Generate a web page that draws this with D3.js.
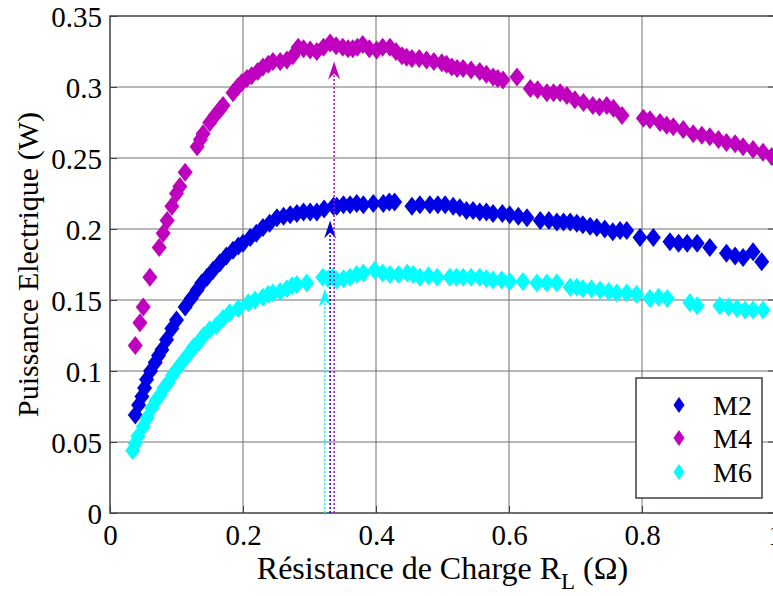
<!DOCTYPE html>
<html>
<head>
<meta charset="utf-8">
<script src="https://cdn.jsdelivr.net/npm/d3@7"></script>
<style>
  html, body { margin: 0; padding: 0; background: #fff; }
  svg { display: block; }
</style>
</head>
<body>
<svg id="chart" width="773" height="596"></svg>
<script>
const FONT = '"Liberation Serif", Tinos, "Times New Roman", Times, "DejaVu Serif", serif';
// ---- Data ----
const seriesNames = ["M2", "M4", "M6"];
const seriesColors = ["#0000e6", "#bf00bf", "#00ffff"];

const xTicks = [0, 0.2, 0.4, 0.6, 0.8, 1];
const yTicks = [0, 0.05, 0.1, 0.15, 0.2, 0.25, 0.3, 0.35];
const xTickLabels = ["0", "0.2", "0.4", "0.6", "0.8", "1"];
const yTickLabels = ["0", "0.05", "0.1", "0.15", "0.2", "0.25", "0.3", "0.35"];

const m2X = [0.038, 0.043, 0.048, 0.052, 0.055, 0.061, 0.068, 0.073, 0.078, 0.085, 0.093, 0.100, 0.113, 0.122, 0.131, 0.138, 0.146, 0.155, 0.165, 0.175, 0.185, 0.193, 0.200, 0.211, 0.220, 0.230, 0.240, 0.251, 0.261, 0.271, 0.281, 0.291, 0.301, 0.311, 0.322, 0.336, 0.341, 0.351, 0.361, 0.371, 0.381, 0.396, 0.411, 0.420, 0.428, 0.454, 0.466, 0.481, 0.493, 0.504, 0.516, 0.526, 0.536, 0.546, 0.556, 0.566, 0.576, 0.590, 0.601, 0.614, 0.627, 0.647, 0.660, 0.672, 0.682, 0.692, 0.702, 0.711, 0.722, 0.732, 0.744, 0.756, 0.767, 0.777, 0.797, 0.817, 0.842, 0.855, 0.868, 0.883, 0.902, 0.927, 0.940, 0.952, 0.967, 0.980];
const m2Y = [0.069, 0.076, 0.082, 0.088, 0.094, 0.100, 0.106, 0.111, 0.115, 0.122, 0.130, 0.136, 0.145, 0.151, 0.157, 0.162, 0.166, 0.171, 0.176, 0.181, 0.185, 0.188, 0.190, 0.194, 0.197, 0.201, 0.204, 0.208, 0.209, 0.210, 0.211, 0.212, 0.212, 0.212, 0.214, 0.216, 0.216, 0.217, 0.217, 0.218, 0.217, 0.218, 0.218, 0.219, 0.219, 0.216, 0.217, 0.217, 0.217, 0.217, 0.216, 0.215, 0.213, 0.213, 0.212, 0.212, 0.211, 0.211, 0.210, 0.209, 0.208, 0.206, 0.206, 0.205, 0.205, 0.205, 0.204, 0.203, 0.202, 0.201, 0.200, 0.198, 0.199, 0.199, 0.194, 0.194, 0.191, 0.190, 0.190, 0.190, 0.187, 0.183, 0.181, 0.180, 0.184, 0.177];

const m4X = [0.038, 0.045, 0.050, 0.060, 0.074, 0.080, 0.086, 0.093, 0.100, 0.105, 0.113, 0.131, 0.136, 0.140, 0.150, 0.158, 0.165, 0.170, 0.185, 0.192, 0.198, 0.206, 0.213, 0.222, 0.230, 0.238, 0.245, 0.256, 0.266, 0.275, 0.283, 0.291, 0.301, 0.311, 0.321, 0.331, 0.340, 0.350, 0.358, 0.365, 0.372, 0.380, 0.390, 0.401, 0.410, 0.421, 0.430, 0.439, 0.446, 0.454, 0.465, 0.476, 0.487, 0.499, 0.506, 0.514, 0.522, 0.531, 0.543, 0.556, 0.566, 0.576, 0.583, 0.591, 0.612, 0.632, 0.643, 0.657, 0.667, 0.677, 0.687, 0.699, 0.712, 0.726, 0.736, 0.747, 0.757, 0.770, 0.802, 0.812, 0.827, 0.837, 0.847, 0.862, 0.877, 0.890, 0.902, 0.915, 0.927, 0.940, 0.952, 0.967, 0.982, 0.995];
const m4Y = [0.118, 0.134, 0.145, 0.166, 0.187, 0.197, 0.206, 0.216, 0.225, 0.230, 0.240, 0.258, 0.263, 0.267, 0.275, 0.280, 0.284, 0.287, 0.296, 0.300, 0.303, 0.306, 0.308, 0.311, 0.314, 0.316, 0.318, 0.318, 0.319, 0.322, 0.328, 0.327, 0.326, 0.325, 0.328, 0.331, 0.329, 0.328, 0.327, 0.327, 0.328, 0.330, 0.327, 0.326, 0.328, 0.328, 0.325, 0.322, 0.321, 0.320, 0.320, 0.319, 0.318, 0.317, 0.316, 0.314, 0.313, 0.313, 0.312, 0.311, 0.309, 0.307, 0.306, 0.305, 0.307, 0.299, 0.298, 0.296, 0.296, 0.296, 0.294, 0.291, 0.289, 0.287, 0.286, 0.287, 0.285, 0.280, 0.278, 0.277, 0.275, 0.273, 0.272, 0.270, 0.267, 0.266, 0.265, 0.263, 0.261, 0.260, 0.258, 0.256, 0.254, 0.251];

const m6X = [0.034, 0.038, 0.042, 0.050, 0.056, 0.063, 0.069, 0.075, 0.081, 0.088, 0.094, 0.100, 0.110, 0.120, 0.126, 0.133, 0.141, 0.150, 0.160, 0.170, 0.180, 0.193, 0.208, 0.218, 0.230, 0.238, 0.245, 0.256, 0.266, 0.274, 0.281, 0.296, 0.320, 0.328, 0.335, 0.341, 0.351, 0.361, 0.371, 0.381, 0.398, 0.410, 0.421, 0.434, 0.447, 0.456, 0.466, 0.479, 0.492, 0.511, 0.521, 0.531, 0.543, 0.556, 0.566, 0.576, 0.589, 0.601, 0.621, 0.642, 0.657, 0.672, 0.692, 0.702, 0.711, 0.724, 0.737, 0.750, 0.762, 0.777, 0.792, 0.812, 0.825, 0.838, 0.872, 0.883, 0.917, 0.930, 0.943, 0.955, 0.967, 0.982];
const m6Y = [0.044, 0.049, 0.054, 0.061, 0.067, 0.074, 0.079, 0.083, 0.088, 0.092, 0.097, 0.101, 0.107, 0.113, 0.117, 0.120, 0.125, 0.129, 0.132, 0.137, 0.141, 0.144, 0.148, 0.150, 0.152, 0.154, 0.155, 0.156, 0.158, 0.160, 0.161, 0.162, 0.166, 0.165, 0.166, 0.164, 0.165, 0.166, 0.168, 0.169, 0.171, 0.169, 0.168, 0.168, 0.169, 0.168, 0.166, 0.167, 0.166, 0.166, 0.166, 0.166, 0.166, 0.166, 0.165, 0.164, 0.164, 0.163, 0.163, 0.162, 0.162, 0.162, 0.159, 0.159, 0.158, 0.158, 0.157, 0.156, 0.155, 0.155, 0.154, 0.151, 0.152, 0.151, 0.148, 0.146, 0.146, 0.145, 0.144, 0.143, 0.143, 0.143];

// Optimum markers (dotted vertical arrows): x position and arrow tip value
const arrowX = [0.331, 0.337, 0.323];
const arrowTip = [0.206, 0.318, 0.158];

// ---- Layout ----
const margin = { left: 110, top: 16, right: 775, bottom: 513 };
const svg = d3.select("#chart");

const x = d3.scaleLinear().domain([0, 1]).range([margin.left, margin.right]);
const y = d3.scaleLinear().domain([0, 0.35]).range([margin.bottom, margin.top]);

// Grid
const grid = svg.append("g");
grid.selectAll("line.gx").data(xTicks.slice(1, -1)).enter().append("line")
  .attr("x1", d => x(d)).attr("x2", d => x(d))
  .attr("y1", margin.top).attr("y2", margin.bottom)
  .attr("stroke", "#707070").attr("stroke-width", 1);
grid.selectAll("line.gy").data(yTicks.slice(1, -1)).enter().append("line")
  .attr("x1", margin.left).attr("x2", margin.right)
  .attr("y1", d => y(d)).attr("y2", d => y(d))
  .attr("stroke", "#707070").attr("stroke-width", 1);

// Box
svg.append("rect")
  .attr("x", margin.left).attr("y", margin.top)
  .attr("width", margin.right - margin.left).attr("height", margin.bottom - margin.top)
  .attr("fill", "none").attr("stroke", "#404040").attr("stroke-width", 1.5);

// Axes (inward ticks)
const xAxis = d3.axisBottom(x).tickValues(xTicks).tickFormat((d, i) => xTickLabels[i]).tickSize(-7).tickPadding(12);
const yAxis = d3.axisLeft(y).tickValues(yTicks).tickFormat((d, i) => yTickLabels[i]).tickSize(-7).tickPadding(8);
const gx = svg.append("g").attr("transform", `translate(0,${margin.bottom})`).call(xAxis);
const gy = svg.append("g").attr("transform", `translate(${margin.left},0)`).call(yAxis);
[gx, gy].forEach(g => {
  g.attr("font-family", FONT).attr("font-size", 29);
  g.select(".domain").remove();
  g.selectAll(".tick line").attr("stroke", "#404040");
  g.selectAll(".tick text").attr("fill", "#000");
});
gx.selectAll(".tick text").attr("dy", "0.68em");
gy.selectAll(".tick text").attr("dy", "0.35em");

// Right axis ticks (inward)
svg.append("g").selectAll("line").data(yTicks).enter().append("line")
  .attr("x1", margin.right - 7).attr("x2", margin.right)
  .attr("y1", d => y(d)).attr("y2", d => y(d))
  .attr("stroke", "#404040");

// Series
const diamond = "M0,-9.5L7.5,0L0,9.5L-7.5,0Z";
const series = [
  { xs: m2X, ys: m2Y },
  { xs: m4X, ys: m4Y },
  { xs: m6X, ys: m6Y }
];
series.forEach((s, i) => {
  const pts = s.xs.map((v, j) => [v, s.ys[j]]);
  svg.append("g").selectAll("path").data(pts).enter().append("path")
    .attr("d", diamond)
    .attr("transform", d => `translate(${x(d[0])},${y(d[1])})`)
    .attr("fill", seriesColors[i]);
});

// Arrows
arrowX.forEach((ax, i) => {
  const g = svg.append("g");
  const px = x(ax), tip = y(arrowTip[i]), base = y(0);
  g.append("line")
    .attr("x1", px).attr("x2", px).attr("y1", base).attr("y2", tip + 4)
    .attr("stroke", seriesColors[i]).attr("stroke-width", 1.5)
    .attr("stroke-dasharray", "2,2");
  g.append("path")
    .attr("d", `M${px},${tip}L${px + 6},${tip + 18}L${px},${tip + 12}L${px - 6},${tip + 18}Z`)
    .attr("fill", seriesColors[i]);
});

// Legend
const lg = svg.append("g").attr("font-family", FONT);
lg.append("rect").attr("x", 636).attr("y", 378).attr("width", 126).attr("height", 120)
  .attr("fill", "#fff").attr("stroke", "#404040").attr("stroke-width", 1.5);
const legY = [405, 438, 472];
seriesNames.forEach((n, i) => {
  lg.append("path").attr("d", "M0,-8L5.5,0L0,8L-5.5,0Z")
    .attr("transform", `translate(679,${legY[i]})`).attr("fill", seriesColors[i]);
  lg.append("text").attr("x", 713).attr("y", legY[i]).attr("dy", "0.35em")
    .attr("font-size", 28).text(n);
});

// Axis titles
const xt = svg.append("text").attr("x", (margin.left + margin.right) / 2).attr("y", 579)
  .attr("text-anchor", "middle").attr("font-family", FONT).attr("font-size", 32);
xt.append("tspan").text("Résistance de Charge R");
xt.append("tspan").attr("dy", 10).attr("font-size", 23).text("L");
xt.append("tspan").attr("dy", -10).text(" (Ω)");

svg.append("text")
  .attr("transform", `translate(38,${(margin.top + margin.bottom) / 2}) rotate(-90)`)
  .attr("text-anchor", "middle").attr("font-family", FONT).attr("font-size", 30)
  .text("Puissance Electrique (W)");
</script>
</body>
</html>
